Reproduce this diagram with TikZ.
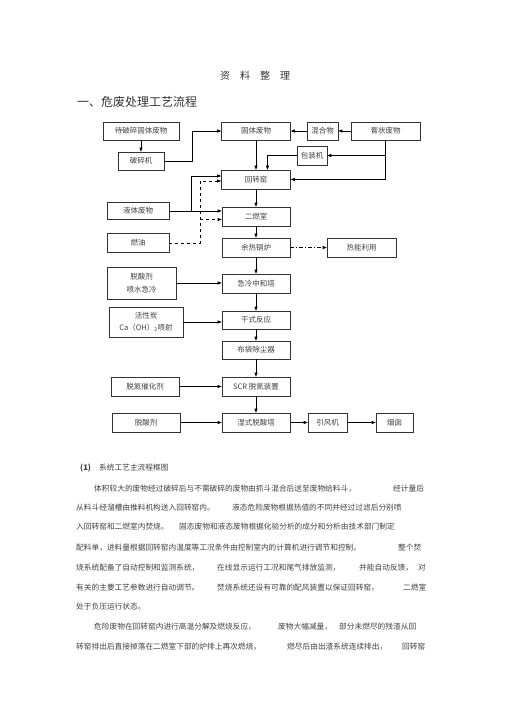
\documentclass[tikz,border=0pt]{standalone}
\usepackage{fontspec}
\setmainfont{Noto Sans CJK SC}
\usepackage{tikz}
\usetikzlibrary{arrows.meta}

\begin{document}
\begin{tikzpicture}[x=1pt,y=-1pt,
  box/.style={draw=black!80, line width=0.6pt, inner sep=0pt, minimum width=68pt, minimum height=19pt, text=black!75, font=\fontsize{7.5}{9}\selectfont},
  arr/.style={black, line width=0.6pt, -{Triangle[length=4pt,width=3pt]}},
  para/.style={anchor=west, inner sep=0pt, text=black!75, font=\fontsize{7.7}{9}\selectfont}]
\useasboundingbox (0,0) rectangle (505,714);

\node[inner sep=0pt, text=black!80, font=\fontsize{10}{12}\selectfont] (title) at (255,76) {资\hspace{10pt}料\hspace{10pt}整\hspace{10pt}理};
\node[anchor=west, inner sep=0pt, text=black!80, font=\fontsize{12}{14}\selectfont] (head) at (77,102) {一、危废处理工艺流程};

\node[box, minimum width=76pt, minimum height=18pt] (feed) at (141,131) {待破碎固体废物};
\node[box, minimum width=69pt, minimum height=18pt] (solid) at (256,131) {固体废物};
\node[box, minimum width=31pt, minimum height=18pt] (mix) at (322.5,131) {混合物};
\node[box, minimum width=69pt, minimum height=18pt] (paste) at (385.5,131) {膏状废物};
\node[box, minimum width=46pt, minimum height=18pt] (crusher) at (141,161) {破碎机};
\node[box, minimum width=30pt] (pack) at (312,155.5) {包装机};
\node[box, minimum width=69pt] (kiln) at (256,179.5) {回转窑};
\node[box, minimum width=62pt, minimum height=17pt] (liquid) at (138,211) {液体废物};
\node[box] (sec) at (256,216.5) {二燃室};
\node[box, minimum width=62pt] (oil) at (138,243) {燃油};
\node[box] (boiler) at (256,247.5) {余热锅炉};
\node[box, minimum width=69pt] (heat) at (361.5,247.5) {热能利用};
\node[box, minimum width=69pt, minimum height=32pt, align=center, font=\fontsize{7.5}{13}\selectfont] (acid1) at (141.5,283) {脱酸剂\\喷水急冷};
\node[box] (quench) at (256,283.5) {急冷中和塔};
\node[box, minimum width=74pt, minimum height=30pt, align=center, font=\fontsize{7.5}{11.5}\selectfont] (carbon) at (146,322) {活性炭\\Ca（OH）\textsubscript{2}喷射};
\node[box, minimum height=18pt] (dry) at (256,320) {干式反应};
\node[box, minimum height=18pt] (bag) at (256,350) {布袋除尘器};
\node[box] (denox) at (145,386.5) {脱氮催化剂};
\node[box] (scr) at (256,386.5) {SCR 脱氮装置};
\node[box] (acid2) at (146,422.5) {脱酸剂};
\node[box] (wet) at (256,422.5) {湿式脱酸塔};
\node[box, minimum width=39pt] (fan) at (327.5,422.5) {引风机};
\node[box, minimum width=37pt] (stack) at (394.5,422.5) {烟囱};

\coordinate (c1) at (192,0);
\coordinate (c2) at (191,0);
\coordinate (c3) at (200,0);
\coordinate (kin1) at ([yshift=3.5pt]kiln.west);
\coordinate (kin2) at ([yshift=-1.5pt]kiln.west);
\coordinate (sin2) at ([yshift=-3pt]sec.west);

\draw[arr] (feed) -- (crusher);
\draw[arr] (crusher.east) -| (c1 |- solid.west) -- (solid.west);
\draw[arr] (mix) -- (solid);
\draw[arr] (paste) -- (mix);
\draw[arr] (solid) -- (kiln);
\draw[arr] (paste.south) |- (kiln.east);
\draw[arr] (paste.south |- pack.east) -- (pack.east);
\draw[arr] (pack.west) -| ([xshift=11.5pt]kiln.north);
\draw[arr] (liquid.east) -- (liquid.east -| sec.west);
\draw[arr] (liquid.east -| c2) |- (kin1);
\draw[arr, dashed] (oil.east) -| (c3 |- kin2) -- (kin2);
\draw[arr, dashed] (c3 |- sin2) -- (sin2);
\draw[arr] (kiln) -- (sec);
\draw[arr] (sec) -- (boiler);
\draw[arr, dash pattern=on 4pt off 2pt on 1pt off 2pt] (boiler) -- (heat);
\draw[arr] (boiler) -- (quench);
\draw[arr] (acid1.east) -- (acid1.east -| quench.west);
\draw[arr] (quench) -- (dry);
\draw[arr] (carbon.east) -- (carbon.east -| dry.west);
\draw[arr] (dry) -- (bag);
\draw[arr] (bag) -- (scr);
\draw[arr] (denox) -- (scr);
\draw[arr] (scr) -- (wet);
\draw[arr, shorten <=1pt] (acid2) -- (wet);
\draw[arr] (wet) -- (fan);
\draw[arr] (fan) -- (stack);

\node[para] (sub) at (80,468) {\textbf{(1)}};
\node[para] (subt) at (99,468) {系统工艺主流程框图};

\node[para] (l1a) at (94,488.5) {体积较大的废物经过破碎后与不需破碎的废物由抓斗混合后送至废物给料斗，};
\node[para] (l1b) at (393,488.5) {经计量后};
\node[para] (l2a) at (76,507.5) {从料斗经溜槽由推料机构送入回转窑内。};
\node[para] (l2b) at (232,507.5) {液态危险废物根据热值的不同并经过过滤后分别喷};
\node[para] (l3a) at (76,527) {入回转窑和二燃室内焚烧。};
\node[para] (l3b) at (179,527) {固态废物和液态废物根据化验分析的成分和分析由技术部门制定};
\node[para] (l4a) at (76,548) {配料单，进料量根据回转窑内温度等工况条件由控制室内的计算机进行调节和控制。};
\node[para] (l4b) at (398,548) {整个焚};
\node[para] (l5a) at (76,568) {烧系统配备了自动控制和监测系统，};
\node[para] (l5b) at (217,568) {在线显示运行工况和尾气排放监测，};
\node[para] (l5c) at (359,568) {并能自动反馈，};
\node[para] (l5d) at (418,568) {对};
\node[para] (l6a) at (76,587.5) {有关的主要工艺参数进行自动调节。};
\node[para] (l6b) at (217,587.5) {焚烧系统还设有可靠的配风装置以保证回转窑，};
\node[para] (l6c) at (403,587.5) {二燃室};
\node[para] (l7a) at (76,607) {处于负压运行状态。};
\node[para] (l8a) at (94,626.5) {危险废物在回转窑内进行高温分解及燃烧反应，};
\node[para] (l8b) at (278,626.5) {废物大幅减量，};
\node[para] (l8c) at (339,626.5) {部分未燃尽的残渣从回};
\node[para] (l9a) at (76,646.5) {转窑排出后直接掉落在二燃室下部的炉排上再次燃烧，};
\node[para] (l9b) at (287,646.5) {燃尽后由出渣系统连续排出，};
\node[para] (l9c) at (402,646.5) {回转窑};

\end{tikzpicture}
\end{document}
